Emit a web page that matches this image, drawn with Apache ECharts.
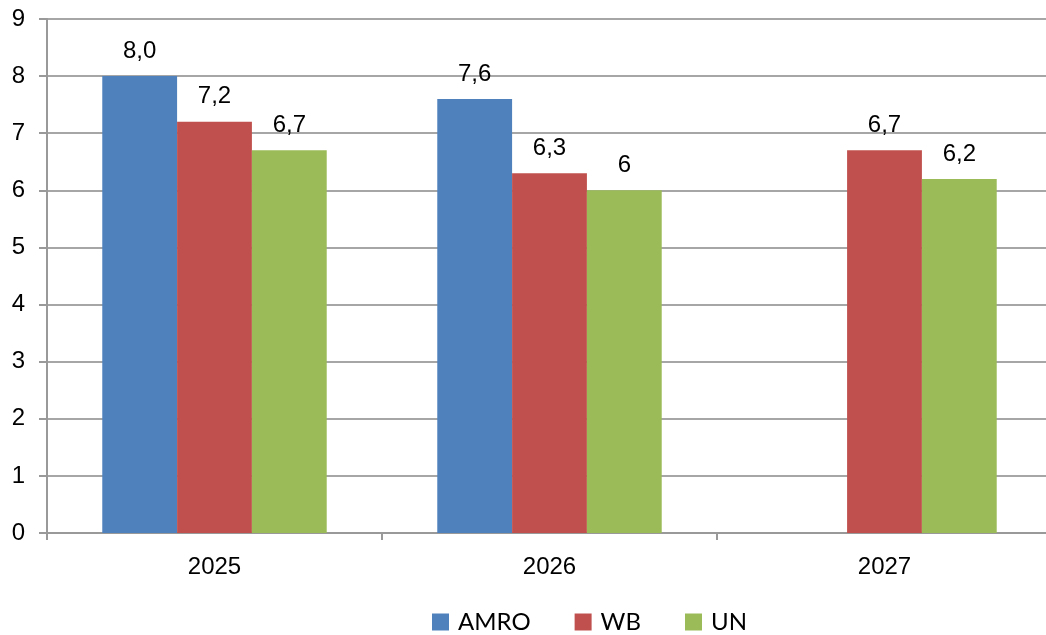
<!DOCTYPE html>
<html><head><meta charset="utf-8">
<script src="https://cdn.jsdelivr.net/npm/echarts@6/dist/echarts.min.js"></script>
<style>html,body{margin:0;padding:0;background:#fff;overflow:hidden;width:1046px;height:635px}#c{width:1052px;height:635px}</style>
</head><body><div id="c"></div>
<script>
const categories = ['2025', '2026', '2027'];
const seriesNames = ['AMRO', 'WB', 'UN'];
const amroValues = [8.0, 7.6, null];
const wbValues = [7.2, 6.3, 6.7];
const unValues = [6.7, 6.0, 6.2];
const amroLabels = ['8,0', '7,6', ''];
const wbLabels = ['7,2', '6,3', '6,7'];
const unLabels = ['6,7', '6', '6,2'];
const yTicks = [0, 1, 2, 3, 4, 5, 6, 7, 8, 9];
const colors = ['#4f81bd', '#c0504d', '#9bbb59'];

const numFont = "'Liberation Sans Narrow', 'Arial Narrow', 'Liberation Sans', sans-serif";
const chart = echarts.init(document.getElementById('c'));
function mk(name, values, labels, color) {
  return {
    name: name, type: 'bar', data: values, barGap: '0%', barCategoryGap: '33%',
    itemStyle: { color: color },
    label: {
      show: true, position: 'top', distance: 13,
      fontFamily: numFont, fontSize: 24, color: '#000',
      formatter: p => labels[p.dataIndex]
    }
  };
}
chart.setOption({
  animation: false,
  grid: { left: 47, right: 0, top: 19, bottom: 102 },
  legend: {
    top: 605, left: 427, itemWidth: 17, itemHeight: 17, itemGap: 44,
    icon: 'rect',
    textStyle: { fontFamily: "Lato, 'Open Sans', sans-serif", fontSize: 24, color: '#000', padding: [0, 0, 0, 4] },
    data: seriesNames
  },
  xAxis: {
    type: 'category', data: categories,
    axisLine: { lineStyle: { color: '#999', width: 2 } },
    axisTick: { show: true, length: 7, lineStyle: { color: '#999', width: 2 } },
    axisLabel: { fontFamily: numFont, fontSize: 24, color: '#000', margin: 22 }
  },
  yAxis: {
    type: 'value', min: 0, max: 9, interval: 1,
    axisLine: { show: true, lineStyle: { color: '#999', width: 2 } },
    axisTick: { show: true, length: 8, lineStyle: { color: '#999', width: 2 } },
    splitLine: { lineStyle: { color: '#a6a6a6', width: 2 } },
    axisLabel: { fontFamily: numFont, fontSize: 24, color: '#000', margin: 22,
      formatter: v => yTicks.includes(v) ? String(v) : '' }
  },
  series: [
    mk(seriesNames[0], amroValues, amroLabels, colors[0]),
    mk(seriesNames[1], wbValues, wbLabels, colors[1]),
    mk(seriesNames[2], unValues, unLabels, colors[2])
  ]
});
</script></body></html>
